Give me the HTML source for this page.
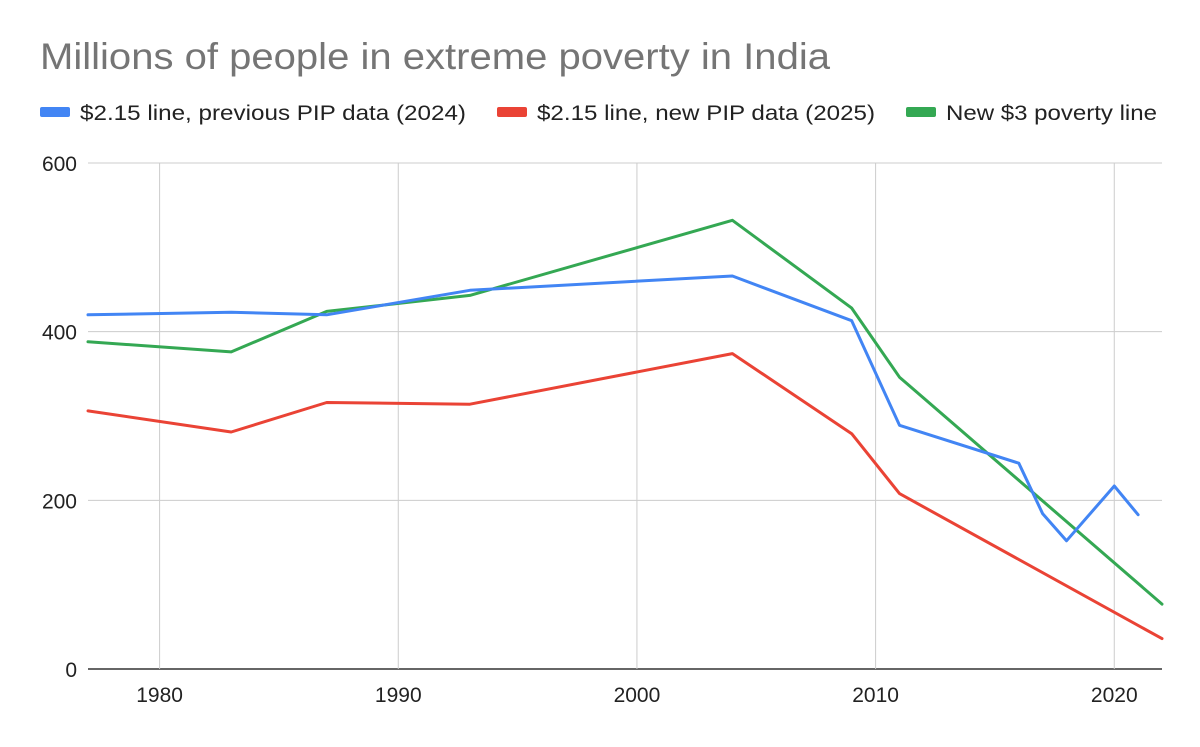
<!DOCTYPE html>
<html><head><meta charset="utf-8"><style>
body{margin:0;background:#fff;width:1200px;height:742px;overflow:hidden;font-family:"Liberation Sans",Arial,sans-serif;}
</style></head><body>
<svg id="chart" width="1200" height="742" xmlns="http://www.w3.org/2000/svg" font-family="Liberation Sans, Arial, sans-serif">
<text x="40" y="69" font-size="37" fill="#757575" textLength="790" lengthAdjust="spacingAndGlyphs">Millions of people in extreme poverty in India</text>
<g>
<rect x="40" y="107" width="30" height="10" rx="2" fill="#4285f4"/>
<text x="80" y="120" font-size="21" fill="#222" textLength="386" lengthAdjust="spacingAndGlyphs">$2.15 line, previous PIP data (2024)</text>
<rect x="497" y="107" width="30" height="10" rx="2" fill="#ea4335"/>
<text x="537" y="120" font-size="21" fill="#222" textLength="338" lengthAdjust="spacingAndGlyphs">$2.15 line, new PIP data (2025)</text>
<rect x="906" y="107" width="30" height="10" rx="2" fill="#34a853"/>
<text x="946" y="120" font-size="21" fill="#222" textLength="211" lengthAdjust="spacingAndGlyphs">New $3 poverty line</text>
</g>
<g id="grid"></g><g id="series"></g><g id="ticks"></g>
</svg>
<script>
const blueYears=[1977,1983,1987,1993,2004,2009,2011,2016,2017,2018,2020,2021];
const blueVals=[420,423,420,449,466,413,289,244,184,152,217,183];
const redYears=[1977,1983,1987,1993,2004,2009,2011,2022];
const redVals=[306,281,316,314,374,279,208,36];
const greenYears=[1977,1983,1987,1993,2004,2009,2011,2022];
const greenVals=[388,376,424,443,532,428,346,77];
const xTicks=[1980,1990,2000,2010,2020];
const yTicks=[0,200,400,600];
const NS="http://www.w3.org/2000/svg";
const X0=88,X1=1162,Y0=669,Y1=163,xmin=1977,xmax=2022,ymax=600;
function xs(v){return X0+(v-xmin)/(xmax-xmin)*(X1-X0);}
function ys(v){return Y0-v/ymax*(Y0-Y1);}
const grid=document.getElementById('grid'),ticks=document.getElementById('ticks'),ser=document.getElementById('series');
function mk(tag,attrs,parent){const e=document.createElementNS(NS,tag);for(const k in attrs)e.setAttribute(k,attrs[k]);parent.appendChild(e);return e;}
yTicks.forEach(v=>{
 const l=mk('line',{x1:X0,x2:X1,y1:ys(v),y2:ys(v),stroke:v===0?'#333':'#ccc','stroke-width':v===0?1.5:1},grid);
 
 
 const t=mk('text',{x:77,y:ys(v)+8,'text-anchor':'end','font-size':21,fill:'#222'},ticks);
 t.textContent=v;
 
 
});
xTicks.forEach(v=>{
 const l=mk('line',{x1:xs(v),x2:xs(v),y1:Y1,y2:Y0,stroke:'#ccc','stroke-width':1},grid);
 
 
 const t=mk('text',{x:xs(v),y:702,'text-anchor':'middle','font-size':21,fill:'#222'},ticks);
 t.textContent=v;
 
 
});
function line(years,vals,color,name){
 const d=years.map((y,i)=>(i?'L':'M')+xs(y).toFixed(1)+','+ys(vals[i]).toFixed(1)).join('');
 const p=mk('path',{d:d,fill:'none',stroke:color,'stroke-width':3,'stroke-linejoin':'round','stroke-linecap':'round'},ser);
 
 
}
line(greenYears,greenVals,'#34a853','series-new-3-line');
line(redYears,redVals,'#ea4335','series-2-15-new-pip');
line(blueYears,blueVals,'#4285f4','series-2-15-previous-pip');
</script>
</body></html>
